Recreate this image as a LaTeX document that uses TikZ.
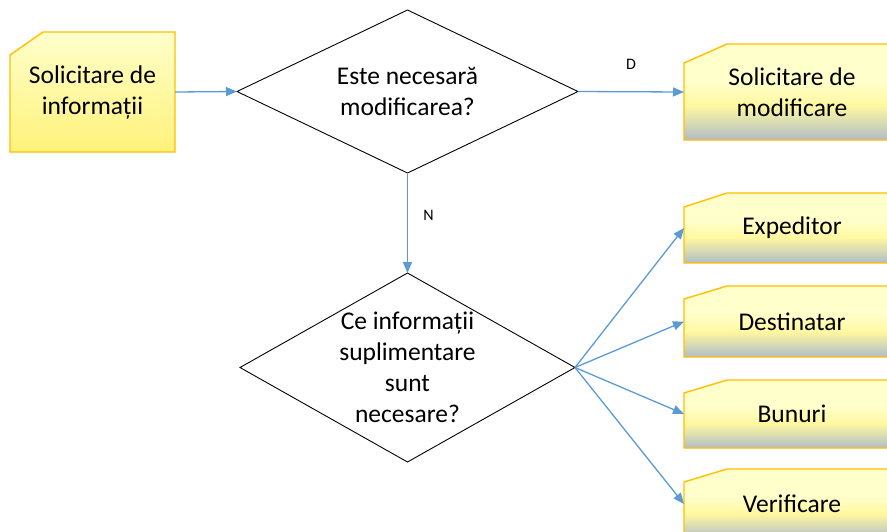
\documentclass[tikz,border=0pt]{standalone}
\usepackage{fontspec}
\setmainfont{Carlito}
\usetikzlibrary{shapes.geometric,arrows.meta,backgrounds}
\definecolor{boxedge}{HTML}{FFC000}
\definecolor{arrowblue}{HTML}{5B9BD5}
\definecolor{paley}{HTML}{FFFFCC}
\definecolor{midy}{HTML}{FFF8A0}
\definecolor{deepy}{HTML}{FFF27A}
\definecolor{greyblue}{HTML}{B0BCC8}
\pgfdeclareverticalshading{boxshade}{100bp}{color(0bp)=(greyblue); color(25bp)=(greyblue);
  color(43bp)=(midy); color(56bp)=(paley); color(75bp)=(paley); color(100bp)=(paley)}
% #1 node name, #2 cut along x, #3 cut along y, #4 fill style
\newcommand\cutbox[4]{%
  \path[#4, draw=boxedge, line width=1.4pt, line join=miter]
    (#1.south west) -- ([yshift=-#3]#1.north west) -- ([xshift=#2]#1.north west)
    -- (#1.north east) -- (#1.south east) -- cycle;}
\begin{document}
\begin{tikzpicture}[x=1pt, y=-1pt,
  boxtext/.style={inner sep=0pt, outer sep=0pt, align=center,
    font=\fontsize{25.5}{31}\selectfont, text=black},
  decision/.style={diamond, draw=black, line width=0.9pt, inner sep=0pt, outer sep=0pt},
  inside/.style={align=center, font=\fontsize{25.5}{31}\selectfont, text=black},
  flow/.style={draw=arrowblue, line width=1.3pt, -{Triangle[length=11pt,width=9pt]}},
  lbl/.style={font=\fontsize{16}{18}\selectfont, text=black},
  firstfill/.style={top color=paley, bottom color=deepy},
  otherfill/.style={shading=boxshade, shading angle=0}]
\useasboundingbox (0,0) rectangle (887,531);

\node[boxtext, minimum width=165pt, minimum height=120pt] (req) at (92.5,92) {Solicitare de\\informații};
\node[decision, minimum width=341pt, minimum height=163pt,
  label={[inside]center:Este necesară\\modificarea?}] (q1) at (407.5,91.5) {};
\node[boxtext, minimum width=216pt, minimum height=96pt] (mod) at (792,92) {Solicitare de\\modificare};
\node[decision, minimum width=335pt, minimum height=189pt,
  label={[inside]center:Ce informații\\suplimentare\\sunt\\necesare?}] (q2) at (407.5,367.5) {};
\node[boxtext, minimum width=216pt, minimum height=70pt] (exp) at (792,228) {Expeditor};
\node[boxtext, minimum width=216pt, minimum height=71pt] (dest) at (792,321.5) {Destinatar};
\node[boxtext, minimum width=216pt, minimum height=68pt] (bun) at (792,414) {Bunuri};
\node[boxtext, minimum width=216pt, minimum height=70pt] (ver) at (792,504) {Verificare};

\begin{pgfonlayer}{background}
  \fill[white] (0,0) rectangle (887,531);
  \cutbox{req}{33pt}{23pt}{firstfill}
  \cutbox{mod}{43pt}{19pt}{otherfill}
  \cutbox{exp}{43pt}{14pt}{otherfill}
  \cutbox{dest}{43pt}{13pt}{otherfill}
  \cutbox{bun}{43pt}{13pt}{otherfill}
  \cutbox{ver}{43pt}{13pt}{otherfill}
\end{pgfonlayer}

\draw[flow] (req.east) -- (q1.west);
\draw[flow] (q1.east) -- node[lbl, above=18pt] (lblD) {D} (mod.west);
\draw[flow] (q1.south) -- node[lbl, pos=0.42, right=12pt] (lblN) {N} (q2.north);
\draw[flow] (q2.east) -- (exp.west);
\draw[flow] (q2.east) -- (dest.west);
\draw[flow] (q2.east) -- (bun.west);
\draw[flow] (q2.east) -- (ver.west);
\end{tikzpicture}
\end{document}
